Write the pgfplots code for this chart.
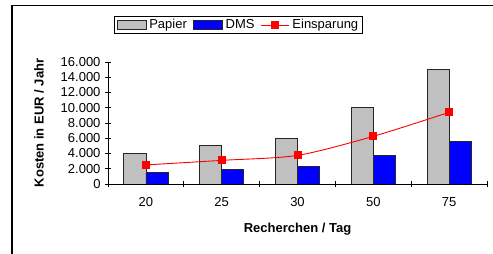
\documentclass[border=0pt]{standalone}
\usepackage{pgfplots}
\pgfplotsset{compat=1.18}
\usepackage{fontspec}
\setmainfont{Liberation Sans}
\definecolor{papier}{RGB}{192,192,192}
\definecolor{dms}{RGB}{0,0,255}
\definecolor{einsp}{RGB}{255,0,0}
\pgfplotsset{
  barleg/.style={legend image code/.code={\draw[##1, line width=0.8bp] (0bp,-4.5bp) rectangle (29bp,4.5bp);}},
  lineleg/.style={legend image code/.code={\draw[##1, mark repeat=2, mark phase=2] plot coordinates {(0bp,0bp) (14bp,0bp) (28bp,0bp)};}},
}
\begin{document}
\begin{tikzpicture}
\useasboundingbox (0,0) rectangle (493bp,254bp);
\draw[line width=1.3bp] (12bp,0bp) -- (12bp,248.5bp) -- (493bp,248.5bp);
\begin{axis}[
  at={(108bp,70bp)}, anchor=south west,
  scale only axis, width=379bp, height=122bp,
  xmin=-0.5, xmax=4.5, ymin=0, ymax=16000,
  axis x line*=bottom, axis y line*=left,
  axis line style={line width=0.8bp},
  every tick/.style={black, line width=0.8bp},
  tick align=center, major tick length=6bp,
  xtick={-0.5,0.5,1.5,2.5,3.5,4.5}, xticklabels={},
  extra x ticks={0,1,2,3,4},
  extra x tick labels={20,25,30,50,75},
  extra x tick style={major tick length=0pt},
  ytick={0,2000,4000,6000,8000,10000,12000,14000,16000},
  /pgf/number format/assume math mode=true,
  /pgf/number format/1000 sep={.},
  scaled y ticks=false,
  tick label style={font=\fontsize{13bp}{15bp}\selectfont},
  yticklabel style={xshift=-1bp},
  xticklabel style={yshift=-10bp},
  xlabel={\bfseries Recherchen / Tag},
  ylabel={\bfseries Kosten in EUR / Jahr},
  label style={font=\fontsize{13bp}{15bp}\selectfont},
  xlabel style={yshift=-7bp},
  ylabel style={yshift=10bp},
  legend columns=3,
  legend style={at={(0.344,1.303)}, anchor=center, draw=black, line width=0.8bp,
    font=\fontsize{13bp}{15bp}\selectfont, inner xsep=2bp, inner ysep=1bp,
    /tikz/every odd column/.append style={column sep=1bp},
    /tikz/every even column/.append style={column sep=4bp}},
  legend cell align=left,
]
\addplot[ybar, bar width=22bp, bar shift=-11bp, fill=papier, draw=black!85, line width=0.8bp, barleg]
  coordinates {(0,4000) (1,5000) (2,6000) (3,10000) (4,15000)};
\addlegendentry{Papier}
\addplot[ybar, bar width=22bp, bar shift=11bp, fill=dms, draw=black!85, line width=0.8bp, barleg]
  coordinates {(0,1500) (1,1900) (2,2250) (3,3750) (4,5600)};
\addlegendentry{DMS}
\addplot[smooth, tension=0.45, einsp, line width=0.9bp, mark=square*, mark size=3.5bp,
  mark options={fill=einsp, draw=einsp}, lineleg]
  coordinates {(0,2500) (1,3100) (2,3750) (3,6250) (4,9400)};
\addlegendentry{Einsparung}
\end{axis}
\end{tikzpicture}
\end{document}
